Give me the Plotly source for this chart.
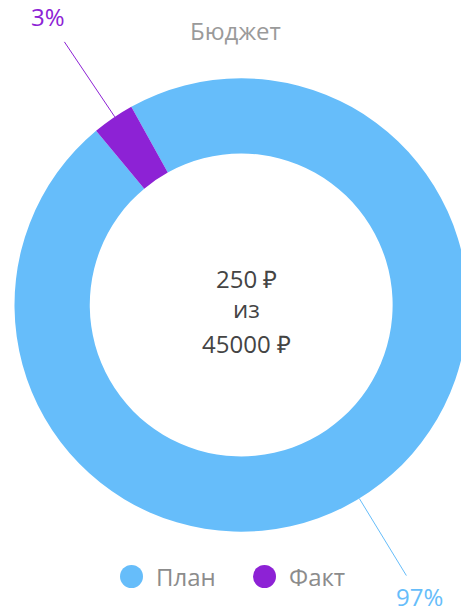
import math
import plotly.graph_objects as go

categories = ["План", "Факт"]
values = [97, 3]
colors = ["#66bdfa", "#8d22d5"]
pct_labels = ["97%", "3%"]
title_text = "Бюджет"
center_lines = ["250 ₽", "из", "45000 ₽"]

W, H = 470, 613          # page shows 461 px; ring slightly overflows on the right
FONT = "Open Sans"
FS = 24

# pie geometry (pixels, from top-left)
cx_px, cy_px = 241.2, 305.0
r_px = 226.7
hole = 0.668
rotation = -29
label_angle_nudge = [3.0, 0.5]
label_radius = [342, 347]

fig = go.Figure()
fig.add_trace(go.Pie(
    labels=categories, values=values, hole=hole, sort=False,
    direction="clockwise", rotation=rotation,
    marker=dict(colors=colors, line=dict(width=0)),
    textinfo="none", hoverinfo="label+percent", showlegend=False,
    domain=dict(x=[(cx_px - r_px) / W, (cx_px + r_px) / W],
                y=[(H - cy_px - r_px) / H, (H - cy_px + r_px) / H]),
))

def px(x, y):
    return x / W, (H - y) / H

annotations = []
shapes = []

# outside percentage labels with leader lines
total = sum(values)
cum = 0
for v, lab, col, nudge, lr in zip(values, pct_labels, colors, label_angle_nudge, label_radius):
    mid = math.radians(rotation + (cum + v / 2) / total * 360 + nudge)
    cum += v
    s, c = math.sin(mid), math.cos(mid)
    x0, y0 = px(cx_px + r_px * s, cy_px - r_px * c)
    x1, y1 = px(cx_px + 317 * s, cy_px - 317 * c)
    shapes.append(dict(type="line", xref="paper", yref="paper", x0=x0, y0=y0, x1=x1, y1=y1,
                       line=dict(color=col, width=1)))
    lx, ly = px(cx_px + lr * s, cy_px - lr * c)
    annotations.append(dict(x=lx, y=ly, xref="paper", yref="paper", text=lab,
                            showarrow=False, xanchor="center", yanchor="middle",
                            font=dict(family=FONT, size=FS, color=col)))

# title
tx, ty = px(235.5, 30.5)
annotations.append(dict(x=tx, y=ty, xref="paper", yref="paper", text=title_text,
                        showarrow=False, xanchor="center", yanchor="middle",
                        font=dict(family=FONT, size=FS, color="#9a9a9a")))
# center text
for line, yy in zip(center_lines, [278, 308, 343.5]):
    x0, y0 = px(246, yy)
    annotations.append(dict(x=x0, y=y0, xref="paper", yref="paper", text=line,
                            showarrow=False, xanchor="center", yanchor="middle",
                            font=dict(family=FONT, size=FS, color="#444444")))

# legend (circle markers + labels)
legend_x = [131.5, 264.5]
legend_y = 576.5
legend_r = 11.5
for c, col, lx in zip(categories, colors, legend_x):
    x0, y0 = px(lx - legend_r, legend_y + legend_r)
    x1, y1 = px(lx + legend_r, legend_y - legend_r)
    shapes.append(dict(type="circle", xref="paper", yref="paper", x0=x0, y0=y0, x1=x1, y1=y1,
                       fillcolor=col, line=dict(width=0)))
    tx, ty = px(lx + legend_r + 11, legend_y)
    annotations.append(dict(x=tx, y=ty, xref="paper", yref="paper", text=c,
                            showarrow=False, xanchor="left", yanchor="middle",
                            font=dict(family=FONT, size=FS, color="#8c8c8c")))

fig.update_layout(
    width=W, height=H, margin=dict(l=0, r=0, t=0, b=0),
    paper_bgcolor="white", plot_bgcolor="white",
    showlegend=False,
    annotations=annotations, shapes=shapes,
)

fig.write_html("out.html", config={"displayModeBar": False},
               post_script="document.body.style.margin='0';document.body.style.overflow='hidden';")
